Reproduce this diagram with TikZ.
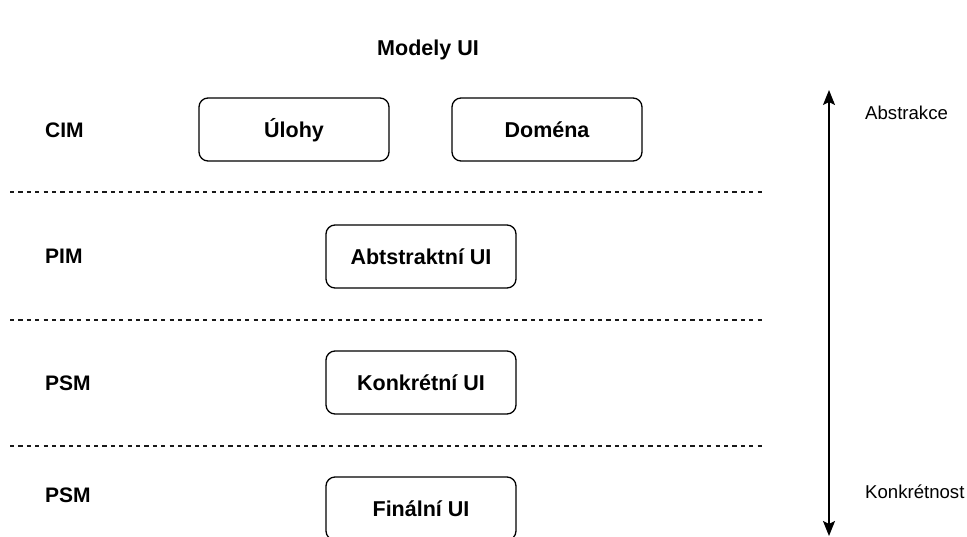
\documentclass[tikz,border=0pt]{standalone}
\usepackage{fontspec}
\setmainfont{Liberation Sans}
\usetikzlibrary{arrows.meta}

\tikzset{
  layerbox/.style={draw=black, line width=1.3pt, rounded corners=9pt,
    minimum width=190pt, minimum height=63pt, inner sep=0pt,
    text height=18pt, text depth=3pt,
    font=\fontsize{21.5}{26}\selectfont\bfseries},
  levellabel/.style={font=\fontsize{21}{25}\selectfont\bfseries, anchor=west, inner sep=0pt},
  sidelabel/.style={font=\fontsize{18.6}{22}\selectfont, anchor=west, inner sep=0pt},
  separator/.style={draw=black!90, line width=1.1pt, dash pattern=on 4.2pt off 4.2pt},
  axistip/.tip={Stealth[length=15pt,width=12pt,inset=3pt]},
}

\begin{document}
\begin{tikzpicture}[x=1pt, y=-1pt]
  \useasboundingbox (0,0) rectangle (967,536);
  \fill[white] (0,0) rectangle (967,536);

  % heading
  \node[font=\fontsize{21.5}{26}\selectfont\bfseries] (title) at (428,50) {Modely UI};

  % level names
  \node[levellabel] (cim)  at (45,130) {CIM};
  \node[levellabel] (pim)  at (45,256) {PIM};
  \node[levellabel] (psm1) at (45,383) {PSM};
  \node[levellabel] (psm2) at (45,495) {PSM};

  % models per level
  \node[layerbox] (ulohy)  at (294,129.5) {Úlohy};
  \node[layerbox] (domena) at (547,129.5) {Doména};
  \node[layerbox] (abstr)  at (421,256.5) {Abtstraktní UI};
  \node[layerbox] (konkr)  at (421,382.5) {Konkrétní UI};
  \node[layerbox] (final)  at (421,508.5) {Finální UI};

  % level separators
  \coordinate (s1a) at (10,192);  \coordinate (s1b) at (763,192);
  \coordinate (s2a) at (10,320);  \coordinate (s2b) at (763,320);
  \coordinate (s3a) at (10,446);  \coordinate (s3b) at (763,446);
  \draw[separator] (s1a) -- (s1b);
  \draw[separator] (s2a) -- (s2b);
  \draw[separator] (s3a) -- (s3b);

  % abstraction axis
  \coordinate (top) at (829,90);
  \coordinate (bottom) at (829,536);
  \draw[line width=1.5pt, axistip-axistip] (top) -- (bottom);

  \node[sidelabel] (abs) at (865,113) {Abstrakce};
  \node[sidelabel] (kon) at (865,492) {Konkrétnost};
\end{tikzpicture}
\end{document}
